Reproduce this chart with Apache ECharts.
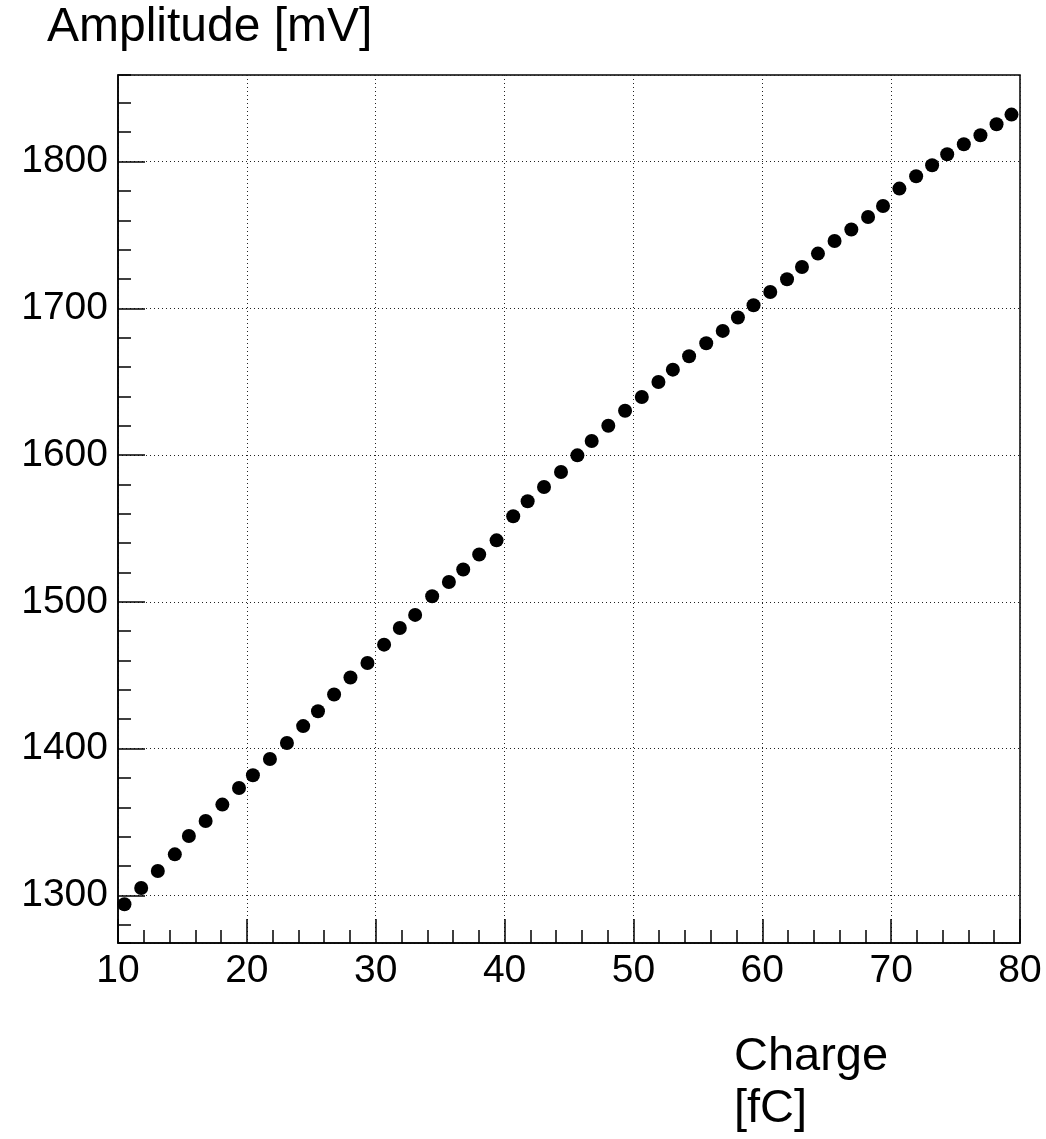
<!DOCTYPE html>
<html>
<head>
<meta charset="utf-8">
<title>Amplitude vs Charge</title>
<script src="https://cdn.jsdelivr.net/npm/echarts@6/dist/echarts.min.js"></script>
<style>
  html, body { margin: 0; padding: 0; background: #fff; }
  #chart { width: 1046px; height: 1139px; }
</style>
</head>
<body>
<div id="chart"></div>
<script>
// charge [fC]
const charge = [
  10.5, 11.8, 13.09, 14.41, 15.5, 16.8, 18.1, 19.39, 20.47, 21.79,
  23.11, 24.37, 25.52, 26.77, 28.04, 29.36, 30.65, 31.87, 33.06, 34.38,
  35.68, 36.79, 38.03, 39.38, 40.67, 41.79, 43.06, 44.38, 45.65, 46.76,
  48.05, 49.35, 50.65, 51.94, 53.06, 54.32, 55.65, 56.93, 58.11, 59.32,
  60.62, 61.92, 63.08, 64.32, 65.61, 66.91, 68.21, 69.37, 70.64, 71.94,
  73.18, 74.35, 75.64, 76.93, 78.18, 79.34
];
// amplitude [mV]
const amplitude = [
  1293.9, 1305.0, 1316.6, 1327.9, 1340.4, 1350.6, 1361.8, 1373.1, 1381.8, 1392.9,
  1403.8, 1415.3, 1425.4, 1436.8, 1448.4, 1458.3, 1470.8, 1482.2, 1491.1, 1503.8,
  1513.5, 1522.0, 1532.2, 1541.9, 1558.3, 1568.5, 1578.2, 1588.5, 1599.8, 1609.6,
  1620.0, 1630.2, 1639.6, 1649.8, 1658.2, 1667.3, 1676.2, 1684.6, 1693.7, 1702.1,
  1711.1, 1719.8, 1728.2, 1737.3, 1745.9, 1753.7, 1762.2, 1769.7, 1781.6, 1790.0,
  1797.5, 1805.0, 1811.8, 1817.9, 1825.4, 1832.0
];
const xTitle = 'Charge\n[fC]';
const yTitle = 'Amplitude [mV]';

const font = '"Liberation Sans", Arial, sans-serif';
const gridDots = { color: '#222', width: 1, type: [1, 3] };

const chart = echarts.init(document.getElementById('chart'));
const points = charge.map((c, i) => [c, amplitude[i]]);

const option = {
  animation: false,
  backgroundColor: '#fff',
  textStyle: { fontFamily: font },
  title: [
    {
      text: yTitle,
      left: 47, top: 4, padding: 0,
      textStyle: { fontFamily: font, fontSize: 48, fontWeight: 'normal', color: '#000', lineHeight: 48 }
    },
    {
      text: xTitle,
      left: 734, top: 1031, padding: 0,
      textStyle: { fontFamily: font, fontSize: 47, fontWeight: 'normal', color: '#000', lineHeight: 52 }
    }
  ],
  grid: {
    left: 118, right: 26, top: 75, bottom: 196,
    show: true, borderColor: '#000', borderWidth: 1.5,
    containLabel: false,
    outerBoundsMode: 'none'
  },
  xAxis: {
    type: 'value',
    min: 10, max: 80, interval: 10,
    axisLine: { lineStyle: { color: '#000', width: 1.5 } },
    axisTick: { inside: true, length: 24, lineStyle: { color: '#000', width: 1.5 } },
    minorTick: { show: true, splitNumber: 5, length: 13, lineStyle: { color: '#000', width: 1.5 } },
    axisLabel: { color: '#000', fontSize: 39, margin: 9, fontFamily: font },
    splitLine: { show: true, lineStyle: gridDots }
  },
  yAxis: [
    {
      type: 'value',
      min: 1267.5, max: 1859,
      splitNumber: 6, minInterval: 100, maxInterval: 100,
      axisLine: { show: true, lineStyle: { color: '#000', width: 1.5 } },
      axisTick: { inside: true, length: 27, lineStyle: { color: '#000', width: 1.5 } },
      axisLabel: {
        color: '#000', fontSize: 39, margin: 10, fontFamily: font,
        showMinLabel: false, showMaxLabel: false,
        formatter: v => String(v)
      },
      splitLine: { show: true, lineStyle: gridDots }
    },
    {
      // second axis only for the small 20 mV ticks
      type: 'value',
      position: 'left',
      min: 1267.5, max: 1859,
      splitNumber: 30, minInterval: 20, maxInterval: 20,
      axisLine: { show: false },
      axisTick: { inside: true, length: 13, lineStyle: { color: '#000', width: 1.5 } },
      axisLabel: { show: false },
      splitLine: { show: false }
    }
  ],
  series: [
    {
      type: 'scatter',
      yAxisIndex: 0,
      symbol: 'circle',
      symbolSize: 14,
      itemStyle: { color: '#000', opacity: 1 },
      data: points
    }
  ]
};
chart.setOption(option);
</script>
</body>
</html>
